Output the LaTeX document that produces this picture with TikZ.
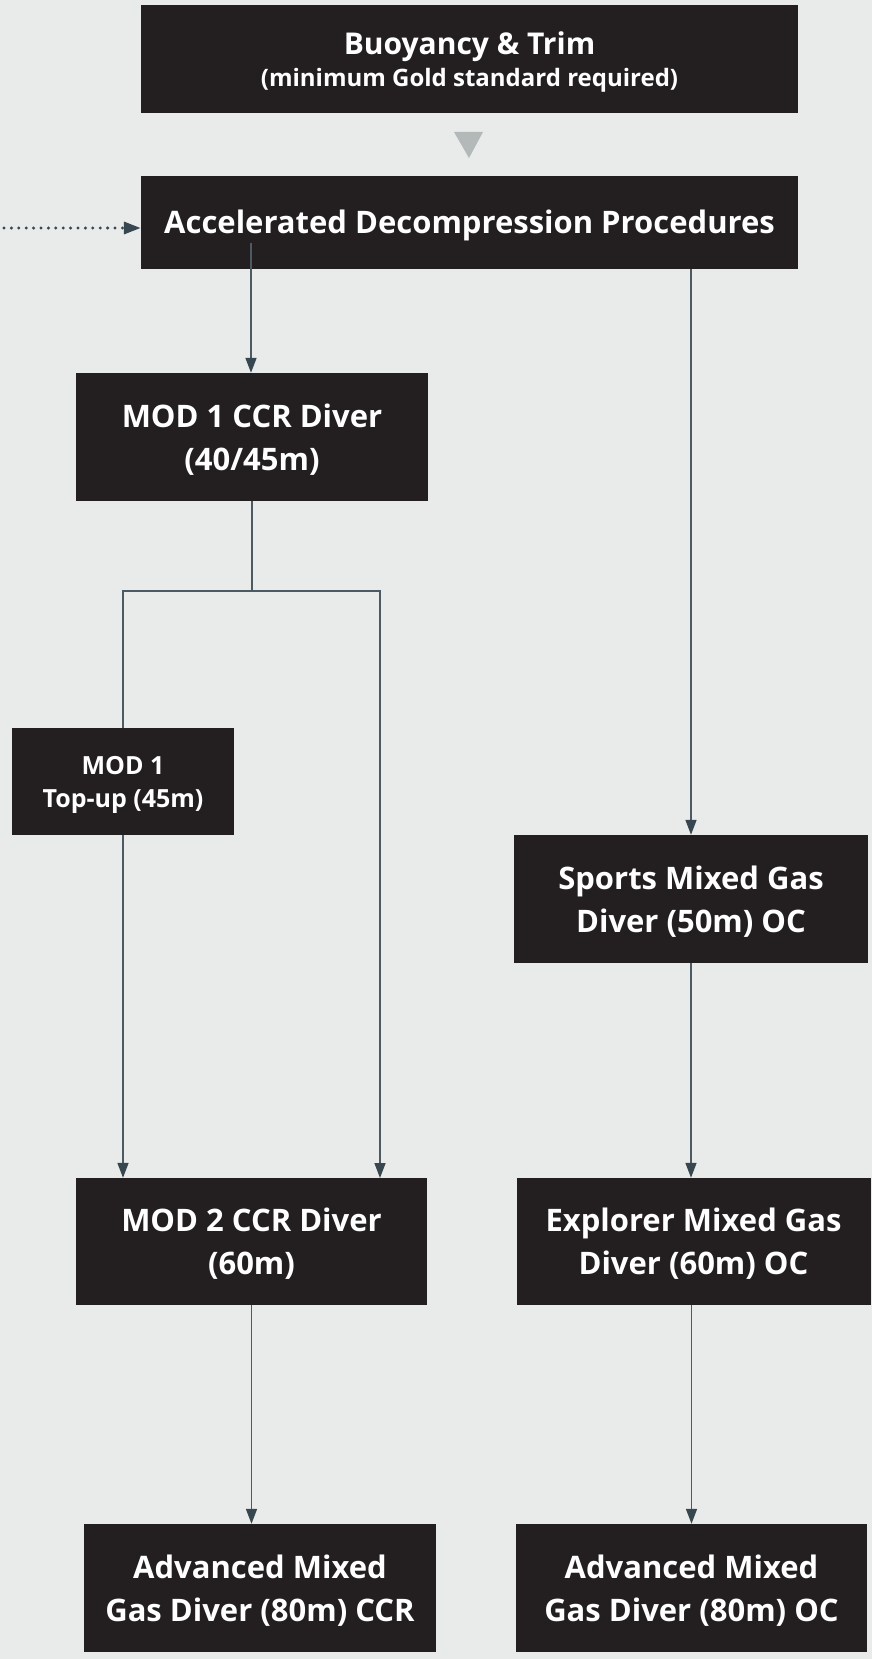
\documentclass[tikz,border=0pt]{standalone}
\usepackage{fontspec}
\setmainfont{Open Sans}
\usetikzlibrary{arrows.meta}

\definecolor{bgcol}{HTML}{E9EBEA}
\definecolor{boxcol}{HTML}{231F20}
\definecolor{linecol}{HTML}{4B5A63}
\definecolor{tipcol}{HTML}{37474F}
\definecolor{tricol}{HTML}{B3B8B8}

\tikzset{
  course/.style={fill=boxcol, text=white, align=center, inner sep=0pt, text depth=0pt,
    font=\bfseries\fontsize{31}{43}\selectfont},
  link/.style={draw=linecol, line width=1.6pt},
  arr/.style={link, -{Triangle[length=15pt, width=11pt, color=tipcol]}},
}

\begin{document}
\begin{tikzpicture}[x=1pt, y=-1pt]
  \fill[bgcol] (0,0) rectangle (872,1659);

  % top of the ladder
  \node[course, minimum width=657pt, minimum height=108pt,
    font=\bfseries\fontsize{30}{32}\selectfont] (trim) at (469.5,59)
    {Buoyancy \& Trim\\{\fontsize{24}{32}\selectfont (minimum Gold standard required)}};
  \fill[tricol] (454,132) -- (483,132) -- (469,158) -- cycle;
  \node[course, minimum width=657pt, minimum height=93pt] (adp) at (469.5,222)
    {Accelerated Decompression Procedures};

  % CCR branch
  \node[course, minimum width=352pt, minimum height=128pt] (ccr1) at (252,437)
    {MOD 1 CCR Diver\\(40/45m)};
  \node[course, minimum width=222pt, minimum height=107pt,
    font=\bfseries\fontsize{25}{33}\selectfont] (topup) at (123,781.5)
    {MOD 1\\Top-up (45m)};
  \node[course, minimum width=351pt, minimum height=127pt] (ccr2) at (251.5,1241.5)
    {MOD 2 CCR Diver\\(60m)};
  \node[course, minimum width=352pt, minimum height=128pt] (advccr) at (260,1588)
    {Advanced Mixed\\Gas Diver (80m) CCR};

  % OC branch
  \node[course, minimum width=354pt, minimum height=128pt] (smg) at (691,899)
    {Sports Mixed Gas\\Diver (50m) OC};
  \node[course, minimum width=354pt, minimum height=127pt] (emg) at (693.5,1241.5)
    {Explorer Mixed Gas\\Diver (60m) OC};
  \node[course, minimum width=351pt, minimum height=128pt] (advoc) at (691.5,1588)
    {Advanced Mixed\\Gas Diver (80m) OC};

  \coordinate (entry) at (4,228);
  \coordinate (adpout) at (251,243);
  \coordinate (fork) at (252,591);
  \coordinate (ccr2in) at (380,1178);

  \draw[draw=tipcol, line width=3.3pt, line cap=round, dash pattern=on 0pt off 7.4pt,
    -{Triangle[length=17pt, width=12pt, color=tipcol]}]
    (entry) -- (entry -| adp.west);
  \draw[arr] (adpout) -- (adpout |- ccr1.north);
  \draw[arr] (adp.south -| smg.north) -- (smg.north);
  \draw[link] (ccr1.south -| fork) -- (fork);
  \draw[arr] (topup.north) |- (fork) -| (ccr2in);
  \draw[arr] (topup.south) -- (topup.south |- ccr2.north);
  \draw[arr] (ccr2.south) -- (ccr2.south |- advccr.north);
  \draw[arr] (smg.south) -- (smg.south |- emg.north);
  \draw[arr] (emg.south -| advoc.north) -- (advoc.north);
\end{tikzpicture}
\end{document}
